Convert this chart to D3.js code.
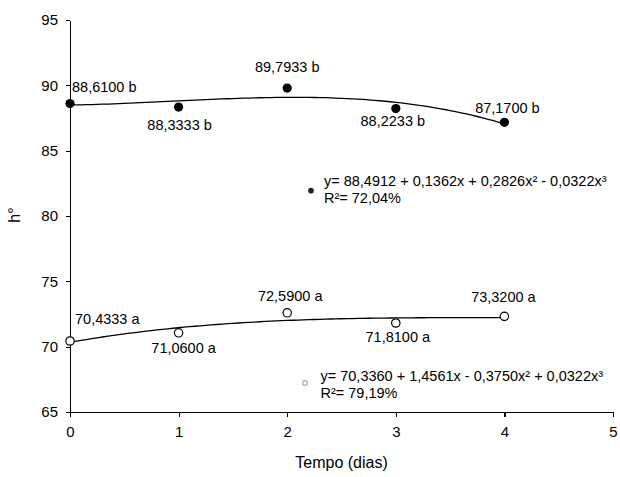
<!DOCTYPE html>
<html>
<head>
<meta charset="utf-8">
<style>
  body { margin: 0; background: #fff; }
  svg { font-family: "Liberation Sans", Arial, sans-serif; }
  .axis path, .axis line { stroke: #000; stroke-width: 1.2px; shape-rendering: crispEdges; }
  .axis text { font-size: 15px; fill: #000; }
  .lbl { font-size: 14.5px; fill: #000; }
  .eq { font-size: 14.5px; fill: #000; }
  .title { font-size: 16px; fill: #000; }
</style>
</head>
<body>
<div id="chart"></div>
<script src="https://d3js.org/d3.v7.min.js"></script>
<script>
// data
var days = [0, 1, 2, 3, 4];
var serieB = [88.6100, 88.3333, 89.7933, 88.2233, 87.1700];
var serieA = [70.4333, 71.0600, 72.5900, 71.8100, 72.3200];
var labelsB = ["88,6100 b", "88,3333 b", "89,7933 b", "88,2233 b", "87,1700 b"];
var labelsA = ["70,4333 a", "71,0600 a", "72,5900 a", "71,8100 a", "73,3200 a"];
var eqB = ["y= 88,4912 + 0,1362x + 0,2826x\u00b2 - 0,0322x\u00b3", "R\u00b2= 72,04%"];
var eqA = ["y= 70,3360 + 1,4561x - 0,3750x\u00b2 + 0,0322x\u00b3", "R\u00b2= 79,19%"];
var xTicks = [0, 1, 2, 3, 4, 5];
var yTicks = [65, 70, 75, 80, 85, 90, 95];

var width = 620, height = 477;
var svg = d3.select("#chart").append("svg")
  .attr("width", width)
  .attr("height", height);

var x = d3.scaleLinear().domain([0, 5]).range([70, 613]);
var y = d3.scaleLinear().domain([65, 95]).range([412, 20]);

// axes
svg.append("g")
  .attr("class", "axis")
  .attr("transform", "translate(0," + y(65) + ")")
  .call(d3.axisBottom(x).tickValues(xTicks).tickFormat(d3.format("d"))
    .tickSize(5).tickSizeOuter(0).tickPadding(9))
  .selectAll("text").attr("dy", "0.71em");

svg.append("g")
  .attr("class", "axis")
  .attr("transform", "translate(" + x(0) + ",0)")
  .call(d3.axisLeft(y).tickValues(yTicks).tickFormat(d3.format("d"))
    .tickSize(4).tickSizeOuter(0).tickPadding(8));

svg.append("text")
  .attr("class", "title")
  .attr("x", (x(0) + x(5)) / 2)
  .attr("y", 468)
  .attr("text-anchor", "middle")
  .text("Tempo (dias)");

svg.append("text")
  .attr("class", "title")
  .attr("transform", "translate(20," + (y(80) - 1) + ") rotate(-90)")
  .attr("text-anchor", "middle")
  .text("h\u00b0");

// least squares cubic trendline, as the spreadsheet did
function polyfit(xs, ys, deg) {
  var n = deg + 1, A = [], b = [];
  for (var i = 0; i < n; i++) {
    A.push([]);
    for (var j = 0; j < n; j++) A[i].push(d3.sum(xs, function(v) { return Math.pow(v, i + j); }));
    b.push(d3.sum(xs, function(v, k) { return ys[k] * Math.pow(v, i); }));
  }
  for (var c = 0; c < n; c++) {
    for (var r = c + 1; r < n; r++) {
      var f = A[r][c] / A[c][c];
      for (var k = c; k < n; k++) A[r][k] -= f * A[c][k];
      b[r] -= f * b[c];
    }
  }
  var coef = new Array(n);
  for (var r2 = n - 1; r2 >= 0; r2--) {
    var s = b[r2];
    for (var k2 = r2 + 1; k2 < n; k2++) s -= A[r2][k2] * coef[k2];
    coef[r2] = s / A[r2][r2];
  }
  return coef;
}

function trend(vals) {
  var cf = polyfit(days, vals, 3);
  return d3.range(0, 4.0001, 0.05).map(function(t) {
    return [t, cf[0] + cf[1] * t + cf[2] * t * t + cf[3] * t * t * t];
  });
}

var line = d3.line()
  .x(function(d) { return x(d[0]); })
  .y(function(d) { return y(d[1]); });

[serieB, serieA].forEach(function(vals) {
  svg.append("path")
    .datum(trend(vals))
    .attr("d", line)
    .attr("fill", "none")
    .attr("stroke", "#000")
    .attr("stroke-width", 1.3);
});

// points
svg.selectAll(".ptB")
  .data(serieB)
  .enter().append("circle")
  .attr("cx", function(d, i) { return x(days[i]); })
  .attr("cy", function(d) { return y(d); })
  .attr("r", 4.6)
  .attr("fill", "#000");

svg.selectAll(".ptA")
  .data(serieA)
  .enter().append("circle")
  .attr("cx", function(d, i) { return x(days[i]); })
  .attr("cy", function(d) { return y(d); })
  .attr("r", 4.2)
  .attr("fill", "#fff")
  .attr("stroke", "#000")
  .attr("stroke-width", 1.2);

// label placement (layout, not data)
var offB = [[2, -11.5, "start"], [1, 23, "middle"], [0, -16, "middle"], [-3, 17.5, "middle"], [3, -9, "middle"]];
var offA = [[5, -17.5, "start"], [5, 20.5, "middle"], [3, -12, "middle"], [2, 19, "middle"], [-1, -14, "middle"]];

function labels(vals, texts, off) {
  svg.append("g").selectAll("text")
    .data(vals)
    .enter().append("text")
    .attr("class", "lbl")
    .attr("x", function(d, i) { return x(days[i]) + off[i][0]; })
    .attr("y", function(d, i) { return y(d) + off[i][1]; })
    .attr("text-anchor", function(d, i) { return off[i][2]; })
    .text(function(d, i) { return texts[i]; });
}
labels(serieB, labelsB, offB);
labels(serieA, labelsA, offA);

// equation boxes
svg.append("circle")
  .attr("cx", x(2.219)).attr("cy", y(81.94)).attr("r", 2.8)
  .attr("fill", "#222");
svg.append("circle")
  .attr("cx", x(2.164)).attr("cy", y(67.22)).attr("r", 2.4)
  .attr("fill", "#fff").attr("stroke", "#aaa").attr("stroke-width", 1.2);

function equation(lines, px, py, dx, dy1, dy2) {
  svg.append("text").attr("class", "eq")
    .attr("x", x(px) + dx).attr("y", y(py) + dy1).text(lines[0]);
  svg.append("text").attr("class", "eq")
    .attr("x", x(px) + dx).attr("y", y(py) + dy2).text(lines[1]);
}
equation(eqB, 2.219, 81.94, 13, -4.5, 12.6);
equation(eqA, 2.164, 67.22, 15.5, -1.5, 15);
</script>
</body>
</html>
